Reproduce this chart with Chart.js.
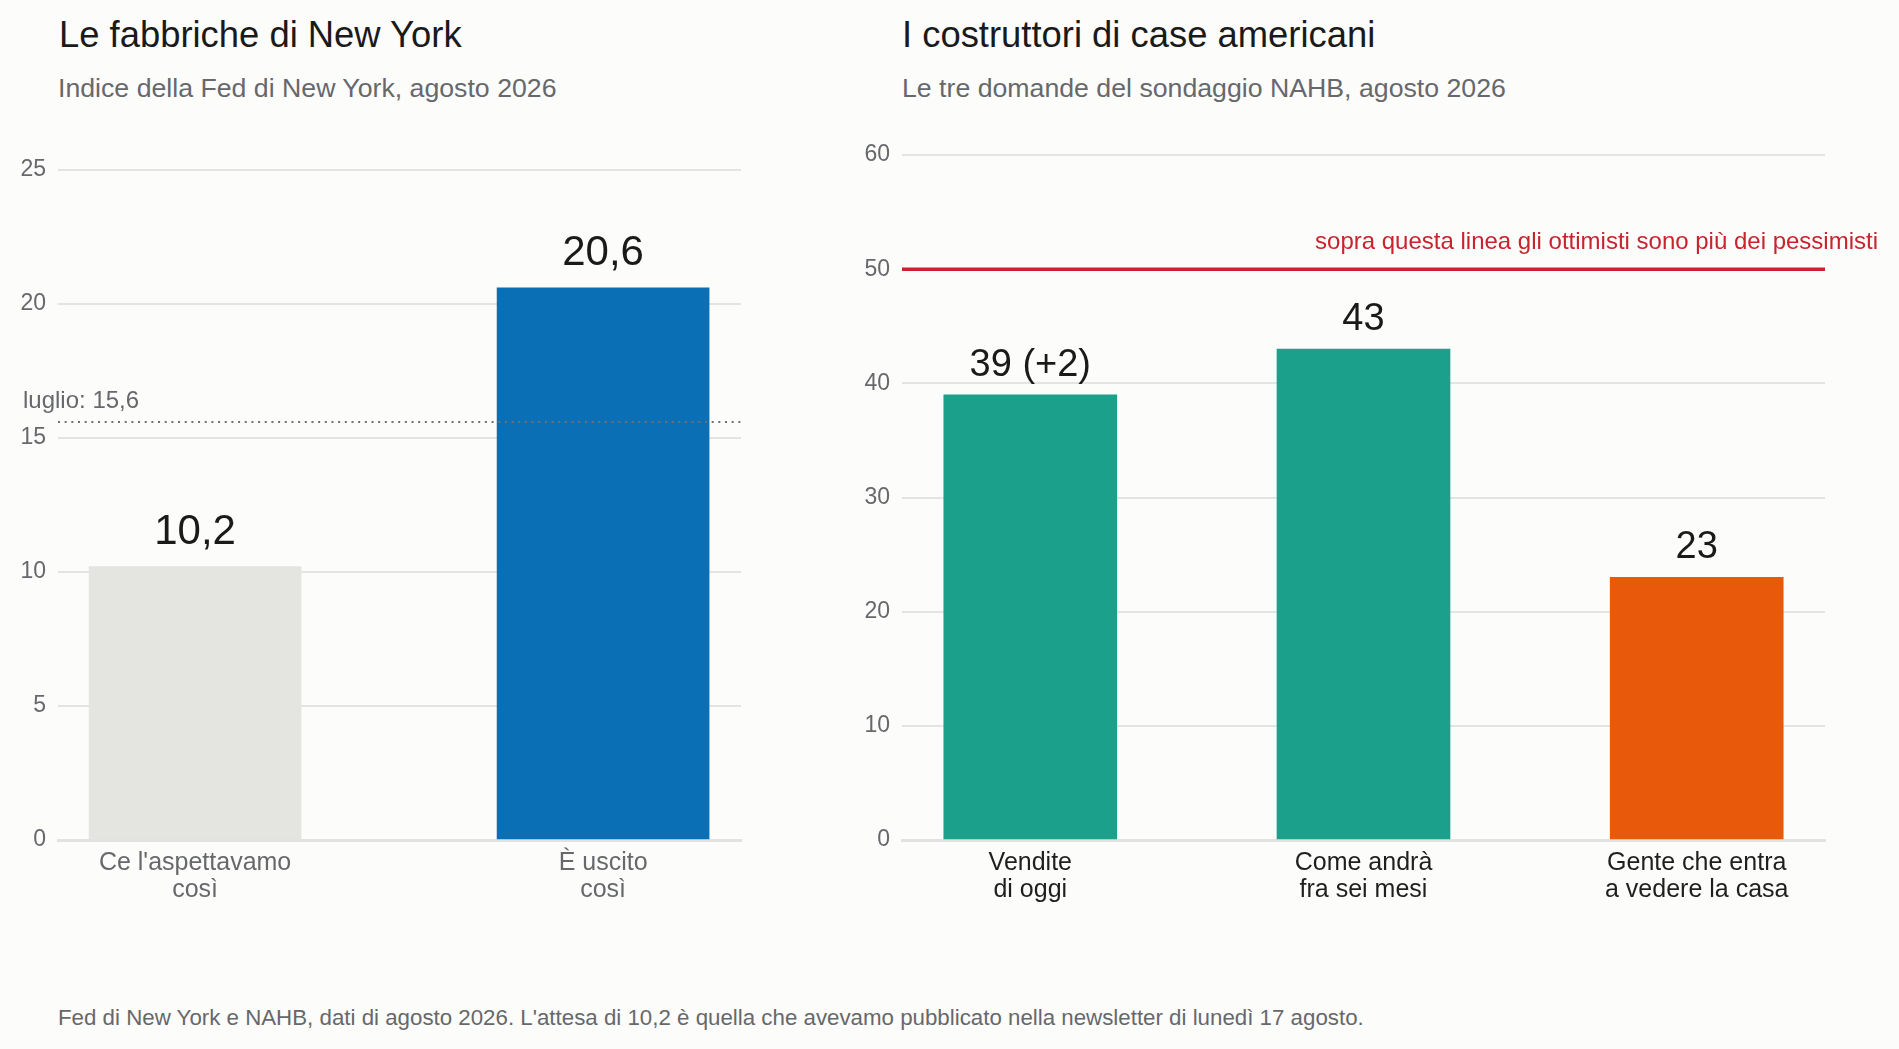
<!DOCTYPE html>
<html lang="it">
<head>
<meta charset="utf-8">
<title>Fed di New York e NAHB, agosto 2026</title>
<script src="https://cdn.jsdelivr.net/npm/chart.js"></script>
<style>
  html, body { margin: 0; padding: 0; background: #fcfcfa; }
  body {
    width: 1899px; height: 1049px; position: relative; overflow: hidden;
    font-family: "Liberation Sans", Arial, Helvetica, sans-serif;
  }
  .title { position: absolute; top: 17px; font-size: 36.4px; line-height: 1; color: #1a1a1a; white-space: nowrap; }
  .subtitle { position: absolute; top: 75px; font-size: 26.7px; line-height: 1; color: #66686c; white-space: nowrap; }
  .footer { position: absolute; left: 58px; top: 1007px; font-size: 22.3px; line-height: 1; color: #66686c; white-space: nowrap; }
  .box { position: absolute; top: 0; height: 940px; }
</style>
</head>
<body>
<div class="title" style="left:59px">Le fabbriche di New York</div>
<div class="subtitle" style="left:58px">Indice della Fed di New York, agosto 2026</div>
<div class="title" style="left:902px">I costruttori di case americani</div>
<div class="subtitle" style="left:902px">Le tre domande del sondaggio NAHB, agosto 2026</div>

<div class="box" style="left:0; width:800px"><canvas id="leftChart"></canvas></div>
<div class="box" style="left:850px; width:1049px"><canvas id="rightChart"></canvas></div>

<div class="footer">Fed di New York e NAHB, dati di agosto 2026. L'attesa di 10,2 è quella che avevamo pubblicato nella newsletter di lunedì 17 agosto.</div>

<script type="text/javascript">
    // Le fabbriche di New York
    var leftLabels = [["Ce l'aspettavamo", "così"], ["È uscito", "così"]];
    var leftValues = [10.2, 20.6];
    var leftColors = ['#e4e4e0', '#0a6fb4'];
    var leftTicks = [0, 5, 10, 15, 20, 25];
    var julyValue = 15.6;

    // I costruttori di case americani
    var rightLabels = [["Vendite", "di oggi"], ["Come andrà", "fra sei mesi"], ["Gente che entra", "a vedere la casa"]];
    var rightValues = [39, 43, 23];
    var rightChange = [2, null, null];
    var rightColors = ['#1ba08b', '#1ba08b', '#e8590c'];
    var rightTicks = [0, 10, 20, 30, 40, 50, 60];
    var threshold = 50;

    var FONT = '"Liberation Sans", Arial, Helvetica, sans-serif';
    var GRID = '#e4e4e4';

    function fmt(v) {
        return String(v).replace('.', ',');
    }

    // bar value labels + reference line, drawn on top of the bars
    var annotate = {
        id: 'annotate',
        afterDatasetsDraw: function (chart, args, opts) {
            var ctx = chart.ctx;
            var area = chart.chartArea;
            var y = chart.scales.y;
            ctx.save();

            if (opts.refValue !== undefined) {
                var ry = y.getPixelForValue(opts.refValue);
                ctx.strokeStyle = opts.refColor;
                ctx.lineWidth = opts.refWidth;
                ctx.setLineDash(opts.refDash || []);
                ctx.beginPath();
                ctx.moveTo(area.left, ry);
                ctx.lineTo(area.right, ry);
                ctx.stroke();
                ctx.setLineDash([]);

                ctx.font = opts.refFont;
                ctx.fillStyle = opts.refTextColor;
                ctx.textAlign = opts.refAlign;
                ctx.textBaseline = 'alphabetic';
                var tx = opts.refAlign === 'right' ? area.right + opts.refDx : area.left + opts.refDx;
                ctx.fillText(opts.refText, tx, ry - opts.refDy);
            }

            var meta = chart.getDatasetMeta(0);
            ctx.font = opts.labelFont;
            ctx.fillStyle = '#1a1a1a';
            ctx.textAlign = 'center';
            ctx.textBaseline = 'alphabetic';
            meta.data.forEach(function (bar, i) {
                ctx.fillText(opts.labels[i], bar.x, bar.y - opts.labelGap);
            });
            ctx.restore();
        }
    };

    function makeChart(id, cfg) {
        var points = cfg.values.map(function (v, i) { return {x: i, y: v}; });
        return new Chart(document.getElementById(id), {
            type: 'bar',
            data: {
                datasets: [{
                    data: points,
                    backgroundColor: cfg.colors,
                    barThickness: cfg.barWidth,
                    borderWidth: 0
                }]
            },
            options: {
                responsive: true,
                maintainAspectRatio: false,
                animation: false,
                events: [],
                layout: {padding: cfg.padding},
                plugins: {
                    legend: {display: false},
                    tooltip: {enabled: false},
                    annotate: cfg.annotate
                },
                scales: {
                    x: {
                        type: 'linear',
                        offset: false,
                        min: cfg.xMin,
                        max: cfg.xMax,
                        afterBuildTicks: function (scale) {
                            scale.ticks = cfg.labels.map(function (l, i) { return {value: i}; });
                        },
                        afterFit: function (scale) { scale.height = 100; },
                        grid: {display: false, drawTicks: false},
                        border: {display: true, color: '#e2e2e2', width: 3},
                        ticks: {
                            autoSkip: false,
                            maxRotation: 0,
                            padding: 10,
                            color: cfg.xColor,
                            font: {family: FONT, size: 25, lineHeight: 27 / 25},
                            callback: function (value) { return cfg.labels[value]; }
                        }
                    },
                    y: {
                        min: cfg.ticks[0],
                        max: cfg.ticks[cfg.ticks.length - 1],
                        afterBuildTicks: function (scale) {
                            scale.ticks = cfg.ticks.map(function (v) { return {value: v}; });
                        },
                        afterFit: function (scale) { scale.width = cfg.yWidth; },
                        grid: {color: GRID, lineWidth: 2, drawTicks: false},
                        border: {display: false},
                        ticks: {
                            padding: 12,
                            color: '#66686c',
                            font: {family: FONT, size: 23}
                        }
                    }
                }
            },
            plugins: [annotate]
        });
    }

    var leftChart = makeChart('leftChart', {
        labels: leftLabels,
        values: leftValues,
        colors: leftColors,
        ticks: leftTicks,
        barWidth: 212,
        xMin: -0.336,
        xMax: 1.338,
        yWidth: 58,
        padding: {left: 0, right: 59, top: 170, bottom: 0},
        xColor: '#66686c',
        annotate: {
            labels: leftValues.map(fmt),
            labelFont: '42px ' + FONT,
            labelGap: 23,
            refValue: julyValue,
            refColor: '#707070',
            refWidth: 2,
            refDash: [2, 4.67],
            refFont: '24px ' + FONT,
            refTextColor: '#66686c',
            refAlign: 'left',
            refDx: -35,
            refDy: 14,
            refText: 'luglio: ' + fmt(julyValue)
        }
    });

    var rightChart = makeChart('rightChart', {
        labels: rightLabels,
        values: rightValues,
        colors: rightColors,
        ticks: rightTicks,
        barWidth: 173,
        xMin: -0.385,
        xMax: 2.385,
        yWidth: 52,
        padding: {left: 0, right: 74, top: 155, bottom: 0},
        xColor: '#1f1f1f',
        annotate: {
            labels: rightValues.map(function (v, i) {
                return rightChange[i] === null ? fmt(v) : fmt(v) + ' (+' + rightChange[i] + ')';
            }),
            labelFont: '38px ' + FONT,
            labelGap: 19,
            refValue: threshold,
            refColor: '#c8232f',
            refWidth: 3.5,
            refFont: '24px ' + FONT,
            refTextColor: '#c8232f',
            refAlign: 'right',
            refDx: 53,
            refDy: 20,
            refText: 'sopra questa linea gli ottimisti sono più dei pessimisti'
        }
    });
</script>
</body>
</html>
